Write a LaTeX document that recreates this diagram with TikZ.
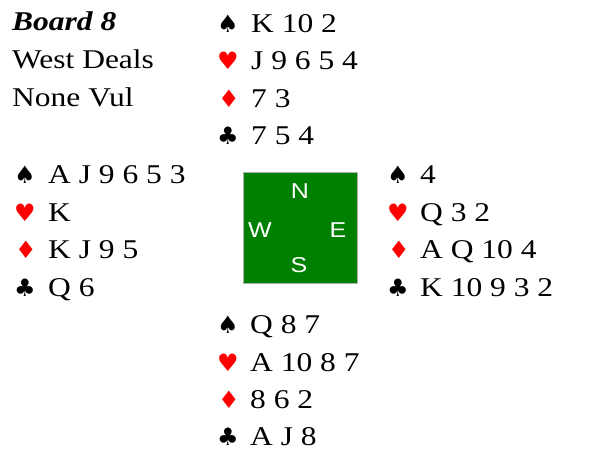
\documentclass[tikz,border=0pt]{standalone}
\usepackage{fontspec}
\setmainfont{Liberation Serif}
\newfontfamily\suitfont{DejaVu Sans}
\newfontfamily\dirfont{Liberation Sans}
\definecolor{suitred}{RGB}{255,0,0}
\definecolor{tablegreen}{RGB}{0,128,0}
\newcommand{\sqz}[1]{\scalebox{1}[0.86]{#1}}
\begin{document}
\begin{tikzpicture}[x=1pt,y=-1pt,
  txt/.style={anchor=base west,inner sep=0pt,font=\fontsize{31.5}{36}\selectfont},
  suitblk/.style={anchor=base west,inner sep=0pt,font=\suitfont\fontsize{24}{26}\selectfont,text=black},
  suitrd/.style={suitblk,text=suitred},
  dir/.style={inner sep=0pt,text=white,font=\dirfont\fontsize{25}{28}\selectfont}]
\useasboundingbox (0,0) rectangle (593,450);
% header
\node[txt] (board) at (12,30) {\sqz{\textbf{\textit{Board 8}}}};
\node[txt] (deals) at (12,68) {\sqz{West Deals}};
\node[txt] (vul) at (12,106) {\sqz{None Vul}};
% table
\node[draw=gray!60,line width=0.6pt,fill=tablegreen,minimum width=114,minimum height=111,inner sep=0pt] (table) at (300,227.5) {};
\node[dir] (dn) at (300,191) {\sqz{N}};
\node[dir] (dw) at (260,230) {\sqz{W}};
\node[dir] (de) at (338,230) {\sqz{E}};
\node[dir] (ds) at (299,265) {\sqz{S}};
% North
\node[suitblk] (ns) at (217,32) {♠};
\node[txt] (nst) at (251,32) {\sqz{K 10 2}};
\node[suitrd] (nh) at (217,69.5) {♥};
\node[txt] (nht) at (251,69.5) {\sqz{J 9 6 5 4}};
\node[suitrd] (nd) at (218,107) {♦};
\node[txt] (ndt) at (251,107) {\sqz{7 3}};
\node[suitblk] (nc) at (217,144.5) {♣};
\node[txt] (nct) at (251,144.5) {\sqz{7 5 4}};
% West
\node[suitblk] (ws) at (14,183) {♠};
\node[txt] (wst) at (48,183) {\sqz{A J 9 6 5 3}};
\node[suitrd] (wh) at (14,221) {♥};
\node[txt] (wht) at (48,221) {\sqz{K}};
\node[suitrd] (wd) at (15,258) {♦};
\node[txt] (wdt) at (48,258) {\sqz{K J 9 5}};
\node[suitblk] (wc) at (14,296) {♣};
\node[txt] (wct) at (48,296) {\sqz{Q 6}};
% East
\node[suitblk] (es) at (387,183) {♠};
\node[txt] (est) at (420,183) {\sqz{4}};
\node[suitrd] (eh) at (387,221) {♥};
\node[txt] (eht) at (420,221) {\sqz{Q 3 2}};
\node[suitrd] (ed) at (388,258) {♦};
\node[txt] (edt) at (420,258) {\sqz{A Q 10 4}};
\node[suitblk] (ec) at (387,296) {♣};
\node[txt] (ect) at (420,296) {\sqz{K 10 9 3 2}};
% South
\node[suitblk] (ss) at (217,333) {♠};
\node[txt] (sst) at (250,333) {\sqz{Q 8 7}};
\node[suitrd] (sh) at (217,371) {♥};
\node[txt] (sht) at (250,371) {\sqz{A 10 8 7}};
\node[suitrd] (sd) at (218,408.5) {♦};
\node[txt] (sdt) at (250,408.5) {\sqz{8 6 2}};
\node[suitblk] (sc) at (217,445) {♣};
\node[txt] (sct) at (250,445) {\sqz{A J 8}};
\end{tikzpicture}
\end{document}
